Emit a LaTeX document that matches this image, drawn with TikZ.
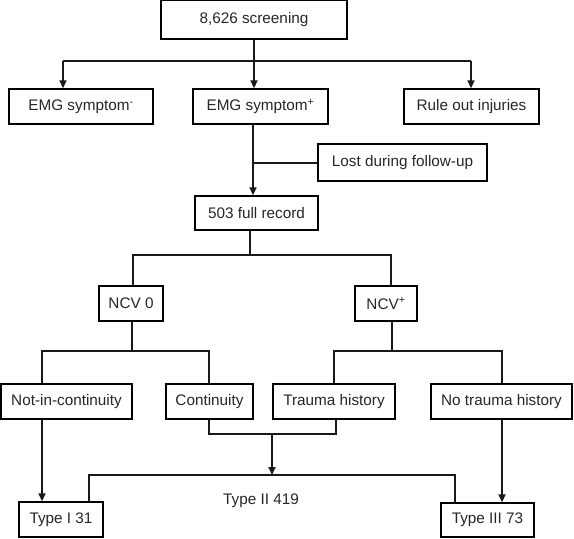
\documentclass[tikz,border=0pt]{standalone}
\usepackage{fontspec}
\setmainfont{Liberation Sans}
\usetikzlibrary{arrows.meta}

\begin{document}
\begin{tikzpicture}[x=1bp, y=-1bp,
  box/.style={draw, black, line width=1.4bp, inner sep=0pt, minimum height=35bp, text=black!85,
    font=\fontsize{15.3bp}{18bp}\selectfont},
  link/.style={line width=1.1bp, black!90},
  arr/.style={line width=1.7bp, black!90, -{Triangle[length=8bp, width=7bp]}}]
\useasboundingbox (0,0) rectangle (574,539);

\draw 
(254, 19.5) node[box, minimum width=186bp, minimum height=39bp](screen){8,626 screening}
(81, 106.5) node[box, minimum width=144bp](emgneg){EMG symptom\textsuperscript{-}}
(260.5, 106.5) node[box, minimum width=135bp](emgpos){EMG symptom\textsuperscript{+}}
(471.5, 106.5) node[box, minimum width=135bp](rule){Rule out injuries}
(402.5, 162.5) node[box, minimum width=169bp, minimum height=37bp](lost){Lost during follow-up}
(256.5, 213) node[box, minimum width=123bp, minimum height=34bp](full){503 full record}
(131, 303.5) node[box, minimum width=64bp](ncvzero){NCV 0}
(386, 303.5) node[box, minimum width=62bp](ncvpos){NCV\textsuperscript{+}}
(66.5, 401.5) node[box, minimum width=131bp](notin){Not-in-continuity}
(209.5, 401.5) node[box, minimum width=87bp](cont){Continuity}
(334, 401.5) node[box, minimum width=122bp](trauma){Trauma history}
(501.5, 401.5) node[box, minimum width=141bp](notrauma){No trauma history}
(61, 519.5) node[box, minimum width=84bp](typei){Type I 31}
(487.5, 520) node[box, minimum width=93bp, minimum height=34bp](typeiii){Type III 73}
(261, 501) node[box, draw=none](typeii){Type II 419};

% junction points
\coordinate (s1) at (254, 61);
\coordinate (s1l) at (63, 61);
\coordinate (s1r) at (471, 61);
\coordinate (e1) at (253, 163);
\coordinate (f1) at (250, 255);
\coordinate (f1l) at (133, 255);
\coordinate (f1r) at (391, 255);
\coordinate (n1) at (132, 351);
\coordinate (n1l) at (42, 351);
\coordinate (n1r) at (209, 351);
\coordinate (p1) at (392, 351);
\coordinate (p1l) at (334, 351);
\coordinate (p1r) at (502, 351);
\coordinate (c1) at (209, 434);
\coordinate (c2) at (336, 434);
\coordinate (c3) at (272, 434);
\coordinate (t1) at (272, 475);
\coordinate (t1l) at (89, 475);
\coordinate (t1r) at (455, 475);

% screening
\draw[link] (screen) -- (s1);
\draw[link] (s1l) -- (s1r);
\draw[arr] (s1l) -- (s1l |- emgneg.north);
\draw[arr] (s1) -- (s1 |- emgpos.north);
\draw[arr] (s1r) -- (s1r |- rule.north);

% follow-up
\draw[arr] (e1 |- emgpos.south) -- (e1 |- full.north);
\draw[link] (e1) -- (e1 -| lost.west);

% NCV
\draw[link] (f1 |- full.south) -- (f1);
\draw[link] (f1l |- ncvzero.north) -- (f1l) -- (f1r) -- (f1r |- ncvpos.north);
\draw[link] (n1 |- ncvzero.south) -- (n1);
\draw[link] (n1l |- notin.north) -- (n1l) -- (n1r) -- (n1r |- cont.north);
\draw[link] (p1 |- ncvpos.south) -- (p1);
\draw[link] (p1l |- trauma.north) -- (p1l) -- (p1r) -- (p1r |- notrauma.north);

% types
\draw[arr] (n1l |- notin.south) -- (n1l |- typei.north);
\draw[link] (c1 |- cont.south) -- (c1) -- (c2) -- (c2 |- trauma.south);
\draw[arr] (c3) -- (t1);
\draw[link] (t1l |- typei.north) -- (t1l) -- (t1r) -- (t1r |- typeiii.north);
\draw[arr] (p1r |- notrauma.south) -- (p1r |- typeiii.north);

\end{tikzpicture}
\end{document}
